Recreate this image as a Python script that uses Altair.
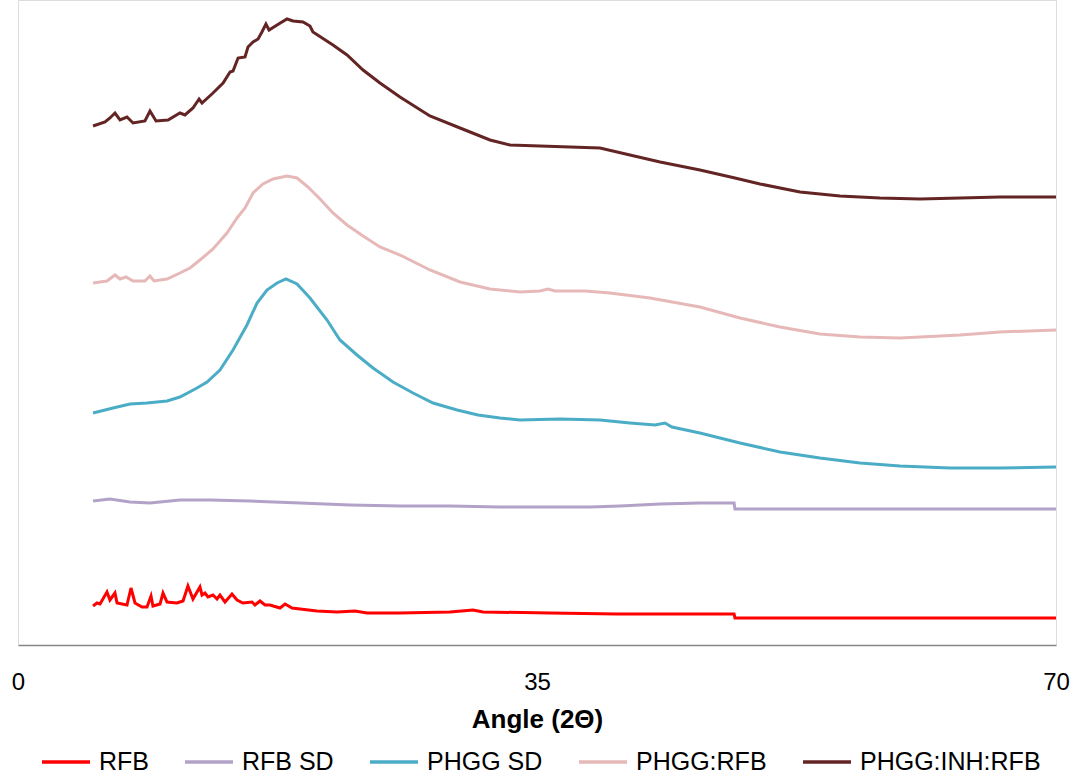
import altair as alt
import pandas as pd

# X-ray diffraction patterns, offset vertically (intensity in arbitrary units)
series_names = ["RFB", "RFB SD", "PHGG SD", "PHGG:RFB", "PHGG:INH:RFB"]
series_colors = ["#FF0000", "#B3A2C7", "#4BACC6", "#E6B9B8", "#632523"]

rfb_angle = [5.06, 5.33, 5.53, 6.00, 6.20, 6.54, 6.68, 7.35, 7.62, 7.89, 8.36, 8.70,
             8.97, 9.10, 9.58, 9.78, 10.05, 10.72, 11.13, 11.46, 11.80, 12.27, 12.41,
             12.61, 12.81, 13.15, 13.42, 13.62, 13.96, 14.43, 14.77, 15.17, 15.78,
             15.98, 16.32, 16.66, 16.99, 17.67, 18.01, 18.48, 19.02, 20.16, 21.51,
             22.73, 23.54, 25.76, 29.13, 30.68, 31.36, 35.88, 40.40, 44.85, 48.29,
             48.35, 70.0]
rfb_int = [39, 42, 41, 53, 45, 52, 42, 40, 57, 42, 38, 38,
           49, 39, 41, 52, 43, 42, 44, 59, 46, 58, 50,
           52, 48, 50, 46, 50, 43, 51, 45, 42, 43,
           40, 44, 40, 40, 37, 41, 37, 36, 34, 33,
           34, 32, 32, 33, 35, 33, 32, 31, 31, 31,
           27, 27]

rfbsd_angle = [5.06, 6.20, 7.55, 8.90, 10.92, 12.95, 15.65, 19.02, 22.39, 25.76,
               29.13, 32.50, 35.88, 38.57, 40.60, 43.30, 45.99, 48.29, 48.35, 70.0]
rfbsd_int = [144, 146, 143, 142, 145, 145, 144, 142, 140, 139,
             139, 138, 138, 138, 139, 141, 142, 142, 136, 136]

phggsd_angle = [5.06, 6.41, 7.55, 8.70, 10.05, 10.92, 12.07, 12.75, 13.62, 14.50,
                15.44, 16.12, 16.79, 17.47, 18.07, 18.82, 19.69, 20.84, 21.71, 22.86,
                23.94, 25.29, 26.64, 27.99, 29.61, 31.02, 32.50, 33.85, 36.55, 39.25,
                41.27, 42.96, 43.63, 44.10, 45.99, 48.69, 51.39, 54.08, 56.78, 59.48,
                62.85, 66.22, 70.0]
phggsd_int = [232, 237, 241, 242, 244, 248, 257, 263, 275, 295,
              320, 342, 355, 362, 366, 361, 347, 325, 305, 290,
              277, 263, 252, 242, 235, 230, 227, 225, 226, 225,
              222, 220, 222, 218, 212, 202, 193, 187, 182, 179,
              177, 177, 178]

phggrfb_angle = [5.06, 6.00, 6.54, 6.88, 7.28, 7.76, 8.56, 8.90, 9.17, 10.05,
                 10.92, 11.60, 12.27, 13.15, 14.09, 14.77, 15.31, 15.85, 16.52, 17.20,
                 18.14, 18.82, 19.56, 20.37, 21.24, 22.19, 23.27, 24.41, 25.76, 27.78,
                 29.81, 31.83, 33.85, 35.20, 35.74, 36.21, 38.24, 39.92, 42.62, 45.99,
                 48.69, 51.39, 54.08, 56.78, 59.48, 63.53, 66.22, 70.0]
phggrfb_int = [362, 364, 370, 366, 368, 364, 364, 369, 364, 366,
               372, 377, 385, 396, 412, 427, 437, 452, 461, 466,
               469, 467, 458, 446, 432, 420, 409, 398, 390, 375,
               363, 356, 353, 354, 356, 354, 354, 352, 347, 338,
               327, 318, 311, 308, 307, 310, 313, 315]

phgginh_angle = [5.06, 5.87, 6.20, 6.54, 6.88, 7.35, 7.76, 8.56, 8.90, 9.31,
                 10.12, 10.92, 11.26, 11.80, 12.21, 12.41, 13.15, 13.83, 14.30, 14.50,
                 14.84, 15.31, 15.51, 15.85, 16.19, 16.45, 16.72, 16.93, 17.47, 18.14,
                 18.55, 19.22, 19.69, 19.89, 21.24, 22.19, 23.27, 24.41, 25.76, 27.78,
                 29.81, 31.83, 33.18, 35.20, 37.23, 39.25, 41.27, 43.30, 45.99, 48.35,
                 50.04, 52.74, 55.43, 58.13, 60.83, 63.53, 66.22, 70.0]
phgginh_int = [519, 523, 527, 532, 525, 528, 522, 524, 534, 524,
               525, 532, 530, 537, 546, 542, 552, 562, 573, 574,
               587, 588, 598, 603, 606, 613, 621, 615, 620, 626,
               624, 623, 619, 613, 600, 590, 575, 562, 548, 529,
               517, 505, 500, 499, 498, 497, 490, 483, 475, 467,
               461, 453, 449, 447, 446, 447, 448, 448]

frames = []
for name, ang, inten in [
    ("RFB", rfb_angle, rfb_int),
    ("RFB SD", rfbsd_angle, rfbsd_int),
    ("PHGG SD", phggsd_angle, phggsd_int),
    ("PHGG:RFB", phggrfb_angle, phggrfb_int),
    ("PHGG:INH:RFB", phgginh_angle, phgginh_int),
]:
    frames.append(pd.DataFrame({"angle": ang, "intensity": inten, "sample": name}))
data = pd.concat(frames, ignore_index=True)

FONT = "Liberation Sans"

chart = (
    alt.Chart(data)
    .mark_line(strokeWidth=3)
    .encode(
        x=alt.X(
            "angle:Q",
            scale=alt.Scale(domain=[0, 70], nice=False, zero=False),
            axis=alt.Axis(
                title="Angle (2Θ)",
                values=[0, 35, 70],
                grid=False,
                ticks=False,
                tickSize=0,
                domainColor="#868686",
                domainWidth=1.5,
                labelFont=FONT,
                labelFontSize=24,
                labelColor="#000000",
                labelPadding=25,
                labelFlush=False,
                labelOverlap=False,
                titleFont=FONT,
                titleFontSize=26,
                titleFontWeight="bold",
                titleColor="#000000",
                titleY=82,
                titleBaseline="alphabetic",
            ),
        ),
        y=alt.Y(
            "intensity:Q",
            scale=alt.Scale(domain=[0, 645], nice=False, zero=False),
            axis=None,
        ),
        color=alt.Color(
            "sample:N",
            sort=series_names,
            scale=alt.Scale(domain=series_names, range=series_colors),
            legend=alt.Legend(
                title=None,
                orient="none",
                direction="horizontal",
                legendX=22,
                legendY=736,
                symbolType="stroke",
                symbolSize=2304,
                symbolStrokeWidth=3.5,
                labelFont=FONT,
                labelFontSize=25,
                labelColor="#000000",
                labelLimit=400,
                labelOffset=7,
                columnPadding=29,
            ),
        ),
        order="angle:Q",
    )
    .properties(
        width=1038,
        height=645,
        autosize=alt.AutoSizeParams(type="none"),
        padding={"left": 18, "top": 0, "right": 18, "bottom": 131},
    )
    .configure_view(strokeWidth=0, stroke="transparent", strokeOpacity=0)
    .configure(background="#FFFFFF")
)

chart.save("out.html", embed_options={"renderer": "svg", "actions": False})
